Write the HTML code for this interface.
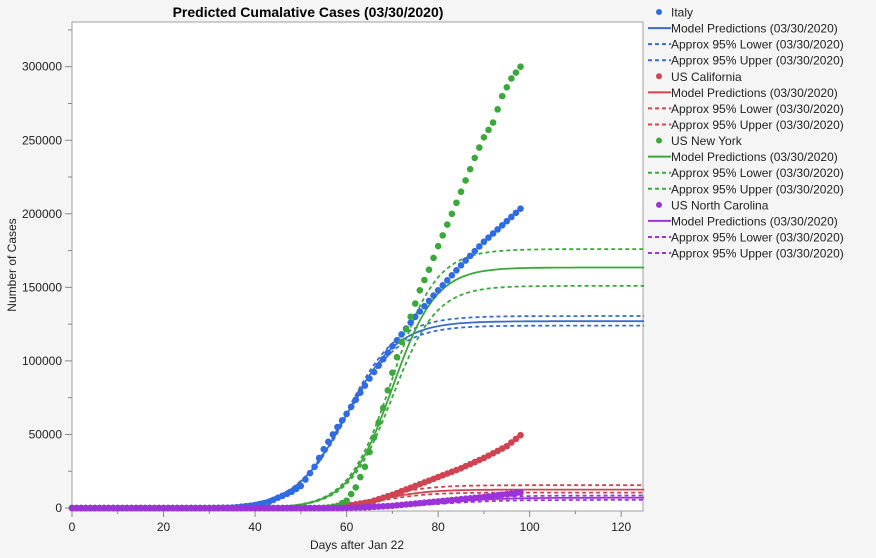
<!DOCTYPE html>
<html><head><meta charset="utf-8"><style>
html,body{margin:0;padding:0;background:#f5f5f5;}
svg{display:block;font-family:"Liberation Sans",sans-serif;}
</style></head><body>
<svg id="s" width="876" height="558" xmlns="http://www.w3.org/2000/svg">
<rect x="0" y="0" width="876" height="558" fill="#f5f5f5"/>
<rect x="72" y="22" width="571" height="489" fill="#fff" stroke="#a0a0a0" stroke-width="1"/>
<text x="308" y="17" text-anchor="middle" font-size="14" font-weight="bold" fill="#000">Predicted Cumalative Cases (03/30/2020)</text>
<text x="357" y="549" text-anchor="middle" font-size="12" fill="#222">Days after Jan 22</text>
<text transform="translate(16,265) rotate(-90)" text-anchor="middle" font-size="12" fill="#222">Number of Cases</text>
<g id="ax"></g><g id="plot"></g><g id="leg"></g>
</svg>
<script>
const NS="http://www.w3.org/2000/svg";
function el(p,t,a,txt){const e=document.createElementNS(NS,t);for(const k in a)e.setAttribute(k,a[k]);if(txt!==undefined)e.textContent=txt;document.getElementById(p).appendChild(e);return e;}
const X=d=>72+d*4.5767, Y=v=>508-v*0.001471;
for(let d=0;d<=120;d+=10){const x=X(d);el('ax','line',{x1:x,x2:x,y1:511,y2:d%20==0?517:514,stroke:'#888'});if(d%20==0)el('ax','text',{x:x,y:531,'text-anchor':'middle','font-size':12,fill:'#222'},d);}
for(let v=0;v<=325000;v+=25000){const y=Y(v);el('ax','line',{x1:v%50000==0?65:68,x2:72,y1:y,y2:y,stroke:'#888'});if(v%50000==0)el('ax','text',{x:62,y:y+4,'text-anchor':'end','font-size':12,fill:'#222'},v);}
function interp(pts,d){for(let i=0;i<pts.length-1;i++){if(d>=pts[i][0]&&d<=pts[i+1][0]){const t=(d-pts[i][0])/(pts[i+1][0]-pts[i][0]);return pts[i][1]+t*(pts[i+1][1]-pts[i][1]);}}return pts[pts.length-1][1];}
const series=[
{c:'#2f6be3',lc:'#3a6cc8',pts:[[0,0],[30,3],[35,300],[38,1200],[40,2000],[43,4000],[45,7000],[48,11000],[50,15000],[53,28000],[55,40000],[58,55000],[60,64000],[65,88000],[70,110000],[75,130000],[80,148000],[85,165000],[90,181000],[95,195000],[98,203500]],K:[127000,124000,130500],t0:60,r:0.18},
{c:'#d04452',lc:'#d04452',pts:[[0,0],[55,0],[60,1500],[65,4000],[70,9000],[75,15000],[80,21000],[85,27000],[90,34000],[95,42000],[98,49500]],K:[12500,10500,15500],t0:68,r:0.2},
{c:'#3aa83a',lc:'#3aa83a',pts:[[0,0],[54,0],[56,300],[58,1500],[60,5000],[62,14000],[64,28000],[66,48000],[68,68000],[70,92000],[72,113000],[74,130000],[76,148000],[78,162000],[80,178000],[83,200000],[85,215000],[88,238000],[90,252000],[92,262000],[94,280000],[96,292000],[98,300000]],K:[163500,151000,176000],t0:70,r:0.21},
{c:'#9b33d9',lc:'#9b33d9',pts:[[0,0],[58,0],[62,300],[65,600],[70,1500],[75,3000],[80,4500],[85,6000],[90,7500],[95,9500],[98,10500]],K:[7000,5500,8500],t0:80,r:0.15}];
series.forEach(s=>{
 s.K.forEach((K,i)=>{let d='';for(let t=0;t<=125;t+=0.5){d+=(t?'L':'M')+X(t).toFixed(1)+','+Y(K/(1+Math.exp(-s.r*(t-s.t0)))).toFixed(1);}
  const a={d:d,fill:'none',stroke:s.lc,'stroke-width':1.8};if(i)a['stroke-dasharray']='4,3';el('plot','path',a);});
});
series.forEach(s=>{for(let d=0;d<=98;d++){el('plot','circle',{cx:X(d),cy:Y(interp(s.pts,d)),r:3.3,fill:s.c});}});
const names=['Italy','US California','US New York','US North Carolina'];
series.forEach((s,i)=>{const b=12+i*4*16.07;
 el('leg','circle',{cx:659,cy:b,r:3,fill:s.c});el('leg','text',{x:671,y:b+4.5,'font-size':12,fill:'#222'},names[i]);
 ['Model Predictions (03/30/2020)','Approx 95% Lower (03/30/2020)','Approx 95% Upper (03/30/2020)'].forEach((t,j)=>{const y=b+(j+1)*16.07;
  const a={x1:648,x2:671,y1:y,y2:y,stroke:s.lc,'stroke-width':2};if(j)a['stroke-dasharray']='4,3';el('leg','line',a);
  el('leg','text',{x:671,y:y+4.5,'font-size':12,fill:'#222'},t);});
});
</script>
</body></html>
